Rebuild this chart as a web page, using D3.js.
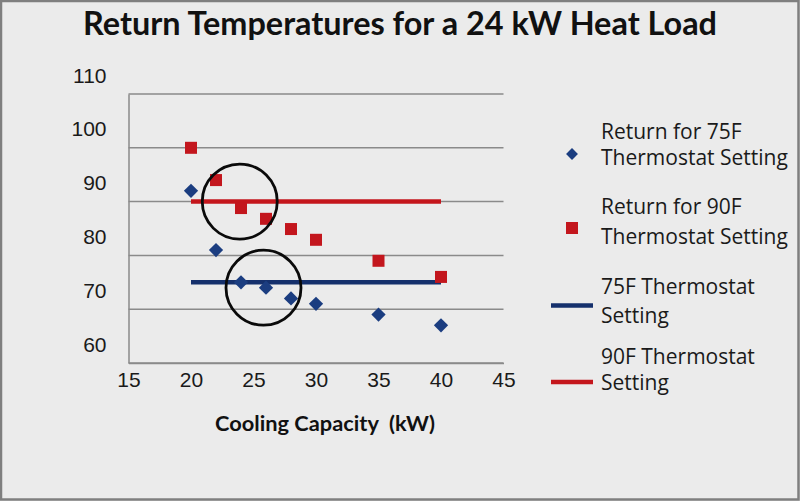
<!DOCTYPE html>
<html>
<head>
<meta charset="utf-8">
<script src="https://cdn.jsdelivr.net/npm/d3@7"></script>
<style>
  html, body { margin: 0; padding: 0; background: #ebebeb; }
  svg { display: block; font-family: "Open Sans", Lato, sans-serif; }
</style>
</head>
<body>
<div id="chart"></div>
<script>
// Chart data
const capacity = [20, 22, 24, 26, 28, 30, 35, 40];
const return75 = [92, 81, 75, 74, 72, 71, 69, 67];
const return90 = [100, 94, 88.8, 86.8, 84.9, 82.9, 79, 76];
const setpointRange = [20, 40];
const setpoint75 = 75;
const setpoint90 = 90;
const xTicks = [15, 20, 25, 30, 35, 40, 45];
const yTicks = [60, 70, 80, 90, 100, 110];
// highlighted regions (data coords)
const circleX = [23.9, 25.8];
const circleY = [90, 74];

const width = 800, height = 501;
const margin = { top: 94, right: 296.5, bottom: 138, left: 128.5 };
const blue = '#1b3d80', blueLine = '#15306c';
const red = '#c3161d', redLine = '#c4161c';
const grid = '#8a8a8a';

const svg = d3.select('#chart')
    .append('svg')
    .attr('width', width)
    .attr('height', height);

// frame
svg.append('rect')
    .attr('x', 1).attr('y', 1)
    .attr('width', width - 2.5).attr('height', height - 2.5)
    .attr('fill', '#ebebeb')
    .attr('stroke', '#7f7f7f')
    .attr('stroke-width', 2.5);

const x = d3.scaleLinear()
    .domain([15, 45])
    .range([margin.left, width - margin.right]);

const y = d3.scaleLinear()
    .domain([60, 110])
    .range([height - margin.bottom, margin.top]);

// title
svg.append('text')
    .attr('x', 400)
    .attr('y', 35)
    .attr('text-anchor', 'middle')
    .attr('font-family', 'Lato, sans-serif')
    .attr('font-weight', 'bold')
    .attr('font-size', 32)
    .attr('fill', '#111')
    .attr('textLength', 634)
    .attr('lengthAdjust', 'spacingAndGlyphs')
    .text('Return Temperatures for a 24 kW Heat Load');

// gridlines
svg.append('g')
    .selectAll('line')
    .data(yTicks)
    .join('line')
    .attr('x1', x(15))
    .attr('x2', x(45))
    .attr('y1', d => y(d))
    .attr('y2', d => y(d))
    .attr('stroke', grid)
    .attr('stroke-width', 1.5);

// y axis (labels sit a little above their gridlines, as in the original)
const yAxis = svg.append('g')
    .attr('transform', `translate(${x(15)},0)`)
    .call(d3.axisLeft(y).tickValues(yTicks).tickSize(0).tickPadding(22));
yAxis.select('.domain').attr('stroke', grid).attr('stroke-width', 1.5);
yAxis.selectAll('text')
    .attr('font-size', 21)
    .attr('font-family', null)
    .attr('fill', '#1a1a1a')
    .attr('dy', '0')
    .attr('transform', 'translate(0,-12)');

// x axis
const xAxis = svg.append('g')
    .attr('transform', `translate(0,${y(60)})`)
    .call(d3.axisBottom(x).tickValues(xTicks).tickSize(0).tickPadding(9));
xAxis.select('.domain').attr('stroke', grid).attr('stroke-width', 1.5);
xAxis.selectAll('text')
    .attr('font-size', 21)
    .attr('font-family', null)
    .attr('fill', '#1a1a1a');

svg.append('text')
    .attr('x', 325)
    .attr('y', 431)
    .attr('text-anchor', 'middle')
    .attr('font-family', 'Lato, sans-serif')
    .attr('font-weight', 'bold')
    .attr('font-size', 21)
    .attr('fill', '#111')
    .style('white-space', 'pre')
    .attr('textLength', 220)
    .attr('lengthAdjust', 'spacingAndGlyphs')
    .text('Cooling Capacity  (kW)');

// thermostat setpoint lines
const lines = [
    { value: setpoint90, color: redLine },
    { value: setpoint75, color: blueLine }
];
svg.append('g')
    .selectAll('line')
    .data(lines)
    .join('line')
    .attr('x1', x(setpointRange[0]))
    .attr('x2', x(setpointRange[1]))
    .attr('y1', d => y(d.value))
    .attr('y2', d => y(d.value))
    .attr('stroke', d => d.color)
    .attr('stroke-width', 4.5);

const pts75 = capacity.map((c, i) => ({ x: c, y: return75[i] }));
const pts90 = capacity.map((c, i) => ({ x: c, y: return90[i] }));

// 75F returns: diamonds
svg.append('g')
    .selectAll('path')
    .data(pts75)
    .join('path')
    .attr('d', d3.symbol().type(d3.symbolDiamond2).size(130))
    .attr('transform', d => `translate(${x(d.x)},${y(d.y)})`)
    .attr('fill', blue);

// 90F returns: squares
svg.append('g')
    .selectAll('rect')
    .data(pts90)
    .join('rect')
    .attr('x', d => x(d.x) - 6)
    .attr('y', d => y(d.y) - 6)
    .attr('width', 12)
    .attr('height', 12)
    .attr('fill', red);

// highlight circles
svg.append('g')
    .selectAll('circle')
    .data(circleX.map((c, i) => ({ x: c, y: circleY[i] })))
    .join('circle')
    .attr('cx', d => x(d.x))
    .attr('cy', d => y(d.y))
    .attr('r', 37.5)
    .attr('fill', 'none')
    .attr('stroke', '#0a0a0a')
    .attr('stroke-width', 2.8);

// legend
const legend = svg.append('g').attr('font-size', 21).attr('fill', '#1a1a1a');
const legendItems = [
    { lines: ['Return for 75F', 'Thermostat Setting'], base: 139, gap: 26, kind: 'diamond', my: 154 },
    { lines: ['Return for 90F', 'Thermostat Setting'], base: 214, gap: 30, kind: 'square', my: 228 },
    { lines: ['75F Thermostat', 'Setting'], base: 294, gap: 29, kind: 'blue', my: 305.5 },
    { lines: ['90F Thermostat', 'Setting'], base: 364, gap: 26, kind: 'red', my: 382 }
];
legendItems.forEach(item => {
    const t = legend.append('text').attr('x', 601).attr('y', item.base);
    item.lines.forEach((l, i) => {
        t.append('tspan').attr('x', 601).attr('dy', i === 0 ? 0 : item.gap).text(l);
    });
    if (item.kind === 'diamond') {
        legend.append('path')
            .attr('d', d3.symbol().type(d3.symbolDiamond2).size(90))
            .attr('transform', `translate(572,${item.my})`)
            .attr('fill', blue);
    } else if (item.kind === 'square') {
        legend.append('rect')
            .attr('x', 566).attr('y', item.my - 6)
            .attr('width', 12).attr('height', 12)
            .attr('fill', red);
    } else {
        legend.append('line')
            .attr('x1', 551).attr('x2', 593)
            .attr('y1', item.my).attr('y2', item.my)
            .attr('stroke', item.kind === 'blue' ? blueLine : redLine)
            .attr('stroke-width', 4.5);
    }
});
</script>
</body>
</html>
